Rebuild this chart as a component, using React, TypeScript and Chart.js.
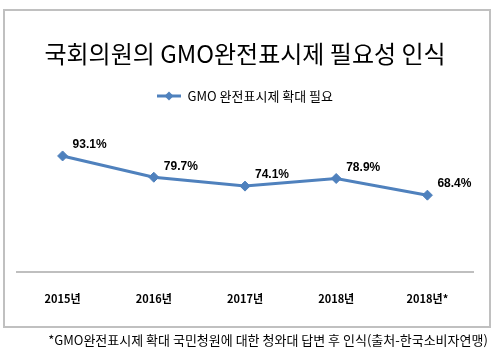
import React, { useEffect, useRef } from "react";
import { Chart, registerables } from "chart.js";

Chart.register(...registerables);

const TITLE = "국회의원의 GMO완전표시제 필요성 인식";
const SERIES_NAME = "GMO 완전표시제 확대 필요";
const CATEGORIES = ["2015년", "2016년", "2017년", "2018년", "2018년*"];
const VALUES = [93.1, 79.7, 74.1, 78.9, 68.4];
const FOOTNOTE = "*GMO완전표시제 확대 국민청원에 대한 청와대 답변 후 인식(출처-한국소비자연맹)";

const LINE_COLOR = "#4F81BD";
const KR_FONT = '"Noto Sans CJK KR", "Noto Sans", sans-serif';

function makeLegendIcon(): HTMLCanvasElement {
  const c = document.createElement("canvas");
  c.width = 24;
  c.height = 12;
  const g = c.getContext("2d")!;
  g.strokeStyle = LINE_COLOR;
  g.lineWidth = 3;
  g.beginPath();
  g.moveTo(0, 6);
  g.lineTo(24, 6);
  g.stroke();
  g.fillStyle = LINE_COLOR;
  g.beginPath();
  g.moveTo(12, 1.5);
  g.lineTo(16.5, 6);
  g.lineTo(12, 10.5);
  g.lineTo(7.5, 6);
  g.closePath();
  g.fill();
  return c;
}

const framePlugin = {
  id: "frame",
  beforeDraw(chart: any) {
    const ctx = chart.ctx;
    ctx.save();
    ctx.fillStyle = "#ffffff";
    ctx.fillRect(0, 0, chart.width, chart.height);
    ctx.strokeStyle = "#C0C0C0";
    ctx.lineWidth = 2;
    ctx.strokeRect(4, 10, 486, 317);
    ctx.restore();
  },
  afterDraw(chart: any) {
    const ctx = chart.ctx;
    ctx.save();
    ctx.font = `13px ${KR_FONT}`;
    ctx.fillStyle = "#000000";
    ctx.textAlign = "center";
    ctx.textBaseline = "middle";
    ctx.fillText(FOOTNOTE, 268, 340);
    ctx.restore();
  },
};

const dataLabelPlugin = {
  id: "dataLabels",
  afterDatasetsDraw(chart: any) {
    const ctx = chart.ctx;
    const meta = chart.getDatasetMeta(0);
    ctx.save();
    ctx.font = 'bold 12px "Liberation Sans", Arial, sans-serif';
    ctx.fillStyle = "#000000";
    ctx.textAlign = "left";
    ctx.textBaseline = "middle";
    meta.data.forEach((pt: any, i: number) => {
      ctx.fillText(VALUES[i].toFixed(1) + "%", pt.x + 10, pt.y - 11);
    });
    ctx.restore();
  },
};

export default function App() {
  const ref = useRef<HTMLCanvasElement>(null);

  useEffect(() => {
    const icon = makeLegendIcon();
    const chart = new Chart(ref.current!, {
      type: "line",
      data: {
        labels: CATEGORIES,
        datasets: [
          {
            label: SERIES_NAME,
            data: VALUES,
            borderColor: LINE_COLOR,
            backgroundColor: LINE_COLOR,
            borderWidth: 3,
            pointStyle: "rectRot",
            pointRadius: 5,
            pointBackgroundColor: LINE_COLOR,
            pointBorderColor: LINE_COLOR,
            pointBorderWidth: 1,
            tension: 0,
          },
        ],
      },
      options: {
        responsive: false,
        animation: false,
        layout: { padding: { top: 0, left: 17, right: 21, bottom: 26 } },
        plugins: {
          title: {
            display: true,
            text: TITLE,
            color: "#000000",
            font: { family: KR_FONT, size: 24, weight: "normal" },
            padding: { top: 39.6, bottom: 11.1 },
          },
          legend: {
            display: true,
            position: "top",
            labels: {
              usePointStyle: true,
              pointStyleWidth: 24,
              padding: 10,
              color: "#000000",
              font: { family: KR_FONT, size: 13 },
              generateLabels: () => [
                {
                  text: SERIES_NAME,
                  pointStyle: icon as any,
                  fillStyle: LINE_COLOR,
                  strokeStyle: LINE_COLOR,
                  lineWidth: 0,
                  hidden: false,
                  datasetIndex: 0,
                  fontColor: "#000000",
                } as any,
              ],
            },
          },
          tooltip: { enabled: false },
        },
        scales: {
          x: {
            offset: true,
            grid: { display: false, drawTicks: false },
            border: { display: true, color: "#BFBFBF", width: 2 },
            ticks: {
              color: "#000000",
              padding: 20.4,
              font: { family: KR_FONT, size: 11, weight: "bold" },
              maxRotation: 0,
            },
          },
          xTop: {
            type: "category",
            position: "top",
            display: true,
            grid: { display: false, drawTicks: false },
            border: { display: false },
            ticks: { display: false },
            afterFit: (s: any) => {
              s.height = 32.5;
            },
          },
          y: {
            display: false,
            min: 20,
            max: 100,
          },
        },
      },
      plugins: [framePlugin, dataLabelPlugin],
    });
    return () => chart.destroy();
  }, []);

  return (
    <div style={{ position: "absolute", left: 0, top: 0, width: 494, height: 352, background: "#fff" }}>
      <canvas ref={ref} width={494} height={352} style={{ display: "block", width: 494, height: 352 }} />
    </div>
  );
}
